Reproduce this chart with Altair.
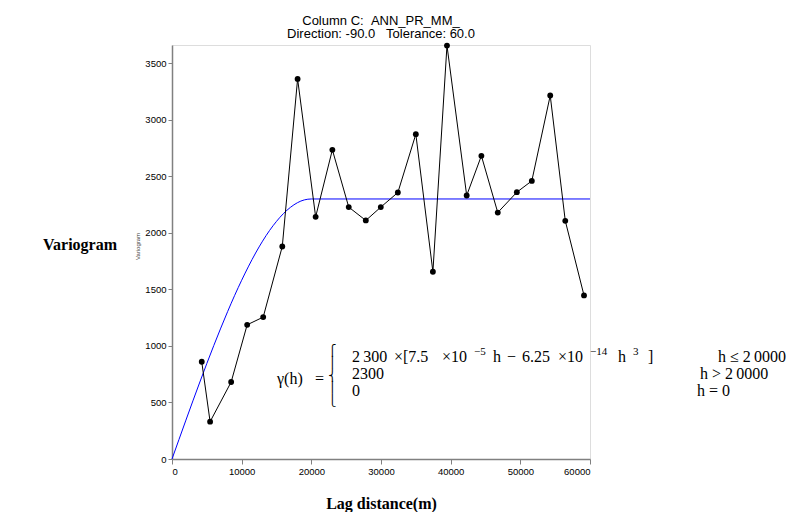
import altair as alt
import pandas as pd

# experimental variogram (lag distance in m, semivariance)
lag = [4270, 5470, 8490, 10790, 13090, 15830, 18030, 20620, 23020, 25370, 27820, 29970,
       32420, 35000, 37450, 39470, 42300, 44410, 46760, 49500, 51650, 54290, 56450, 59140]
gamma = [860, 330, 681, 1187, 1255, 1880, 3362, 2142, 2735, 2228, 2110, 2228,
         2357, 2873, 1656, 3657, 2331, 2682, 2180, 2360, 2460, 3215, 2107, 1447]

# fitted model curve
model_lag = [0, 1000, 2000, 3000, 4000, 5000, 6000, 7000, 8000, 9000, 10000, 11000, 12000,
             13000, 14000, 15000, 16000, 17000, 18000, 19000, 20000, 60000]
model_gamma = [0, 172, 344, 514, 681, 845, 1004, 1158, 1306, 1448, 1581, 1706, 1822,
               1927, 2021, 2102, 2171, 2226, 2267, 2292, 2300, 2300]

x_ticks = list(range(0, 60001, 5000))
y_ticks = list(range(0, 3501, 500))

title_lines = ["Column C:\u00a0\u00a0ANN_PR_MM_", "Direction: -90.0\u00a0\u00a0\u00a0Tolerance: 60.0"]

pts = pd.DataFrame({"lag": lag, "gamma": gamma})
model = pd.DataFrame({"lag": model_lag, "gamma": model_gamma})
dummy = pd.DataFrame({"a": [0]})

xs = alt.Scale(domain=[0, 60000], nice=False, zero=False)
ys = alt.Scale(domain=[0, 3662], nice=False, zero=False)

x_axis = alt.Axis(values=x_ticks, format="d", labelFont="Liberation Sans", labelFontSize=9.5,
                  labelColor="black", domainColor="#808080", domainWidth=1.5, tickColor="#808080",
                  tickSize=5, labelPadding=2, grid=False, title="Lag distance(m)",
                  titleFont="Liberation Serif", titleFontWeight="bold", titleFontSize=16,
                  titleColor="black", titleY=49, titleBaseline="alphabetic")
y_axis = alt.Axis(values=y_ticks, format="d", labelFont="Liberation Sans", labelFontSize=9.5,
                  labelColor="black", domainColor="#808080", domainWidth=1.5, tickColor="#808080",
                  tickSize=4, labelPadding=2, grid=False, title="Variogram",
                  titleFont="Liberation Sans", titleFontWeight="normal", titleFontSize=6,
                  titleColor="#444444", titleX=-35, titleY=201, titleAngle=270,
                  titleAlign="center", titleBaseline="middle")

model_line = alt.Chart(model).mark_line(color="#0000ff", strokeWidth=1, interpolate="monotone").encode(
    x=alt.X("lag:Q", scale=xs, axis=x_axis),
    y=alt.Y("gamma:Q", scale=ys, axis=y_axis),
)
pt_line = alt.Chart(pts).mark_line(color="black", strokeWidth=1).encode(
    x=alt.X("lag:Q", scale=xs), y=alt.Y("gamma:Q", scale=ys))
pt_dots = alt.Chart(pts).mark_circle(color="black", opacity=1, size=34).encode(
    x=alt.X("lag:Q", scale=xs), y=alt.Y("gamma:Q", scale=ys))


def txt(s, x, y, size=16, font="Liberation Serif", weight="normal", align="left", baseline="alphabetic", **kw):
    return alt.Chart(dummy).mark_text(text=s, font=font, fontSize=size, fontWeight=weight, align=align,
                                      baseline=baseline, color="black", **kw).encode(
        x=alt.value(x), y=alt.value(y))


L1, L2, L3, SUP = 317, 334, 351, 310
S = 11
X0 = 172  # helper: pieces below are written as page x minus X0
texts = [
    txt("Variogram", -55, 205, size=16, weight="bold", align="right"),
    txt("\u03b3(h)", 277 - X0, 339),
    txt("=", 315 - X0, 339),
    txt("\u23a7\n\u23aa\n\u23a8\n\u23aa\n\u23a9", 332 - X0, 300, size=11, font="DejaVu Sans", align="center",
        baseline="top", lineBreak="\n", lineHeight=12.4),
    # first branch
    txt("2\u2009300", 352 - X0, L1),
    txt("\u00d7[7.5", 394 - X0, L1),
    txt("\u00d710", 442 - X0, L1),
    txt("\u22125", 474 - X0, SUP, size=S),
    txt("h", 493 - X0, L1),
    txt("\u2212", 507 - X0, L1),
    txt("6.25", 522 - X0, L1),
    txt("\u00d710", 558 - X0, L1),
    txt("\u221214", 590 - X0, SUP, size=S),
    txt("h", 618 - X0, L1),
    txt("3", 633 - X0, SUP, size=S),
    txt("]", 648 - X0, L1),
    txt("h \u2264 2\u20090000", 718 - X0, L1),
    # second and third branches
    txt("2300", 352 - X0, L2),
    txt("h > 2\u20090000", 700 - X0, L2),
    txt("0", 352 - X0, L3),
    txt("h = 0", 697 - X0, L3),
]

chart = alt.layer(model_line, pt_line, pt_dots, *texts).properties(
    width=418, height=414,
    title=alt.TitleParams(title_lines, font="Liberation Sans", fontSize=13, fontWeight="normal",
                          color="black", anchor="middle", offset=1.5, lineHeight=13),
    autosize=alt.AutoSizeParams(type="none"),
    padding={"left": 164, "top": 37, "right": 199, "bottom": 53},
).configure_view(stroke=None).configure(background="white")

chart.save("out.html", embed_options={"renderer": "svg", "actions": False})
